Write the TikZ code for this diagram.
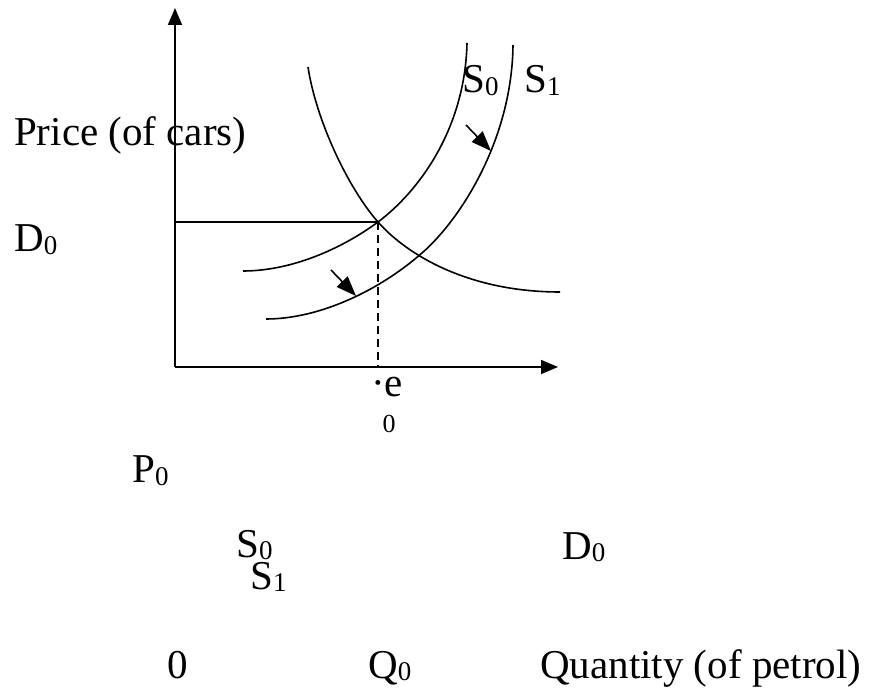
\documentclass[tikz,border=0pt]{standalone}
\usepackage{fontspec}
\setmainfont{Liberation Serif}
\usetikzlibrary{arrows.meta}
\newcommand{\subidx}[1]{\raisebox{-2.5pt}{\fontsize{27}{30}\selectfont #1}}

\begin{document}
\begin{tikzpicture}[x=1pt, y=-1pt,
          curve/.style={line width=1.6pt},
          shift arrow/.style={line width=1.6pt, -{Triangle[length=20pt, width=15pt]}},
          lbl/.style={anchor=base west, inner sep=0pt, font=\fontsize{41}{49}\selectfont},
          small/.style={anchor=base, inner sep=0pt, font=\fontsize{26}{30}\selectfont}]
        \useasboundingbox (0,0) rectangle (876,692);
        \coordinate (O) at (175,367);
        \coordinate (ytop) at (175,8);
        \coordinate (xend) at (558,367);
        \coordinate (e) at (378,222);
        \coordinate (ep) at (175,222);
        \coordinate (eq) at (378,367);
        \coordinate (e1) at (422,253);
        % axes
        \draw[line width=1.7pt, -{Triangle[length=17pt, width=14pt]}] (O) -- (ytop);
        \draw[line width=1.7pt, -{Triangle[length=17pt, width=14pt]}] (O) -- (xend);
        \draw[line width=1.6pt] (ep) -- (e);
        \draw[line width=1.5pt, dash pattern=on 8pt off 5pt] (e) -- (eq);
        % demand and supply
        \draw[curve] (308,67) .. controls (316,120) and (348,188) .. (e)
                     .. controls (408,256) and (470,292) .. (560,292);
        \draw[curve] (243,271) .. controls (290,271) and (340,250) .. (e)
                     .. controls (418,192) and (465,130) .. (467,43);
        \draw[curve] (266,319) .. controls (320,319) and (380,290) .. (e1)
                     .. controls (460,220) and (512,140) .. (513,45);
        \coordinate (a1) at (331,270); \coordinate (b1) at (356,296);
        \coordinate (a2) at (466,125); \coordinate (b2) at (491,151);
        \draw[shift arrow] (a1) -- (b1);
        \draw[shift arrow] (a2) -- (b2);
        % labels
        \node[lbl] (s0top) at (462,93) {S\subidx{0}};
        \node[lbl] (s1top) at (524,93) {S\subidx{1}};
        \node[lbl] (price) at (14,146) {Price (of cars)};
        \node[lbl] (d0left) at (14,252) {D\subidx{0}};
        \node[lbl] (edot) at (371,397) {·e};
        \node[small] (ezero) at (389,433) {0};
        \node[lbl] (p0) at (132,483) {P\subidx{0}};
        \node[lbl] (s0low) at (236,557) {S\subidx{0}};
        \node[lbl] (s1low) at (250,589) {S\subidx{1}};
        \node[lbl] (d0low) at (562,559) {D\subidx{0}};
        \node[lbl] (zero) at (167,678) {0};
        \node[lbl] (q0) at (368,678) {Q\subidx{0}};
        \node[lbl] (qty) at (540,678) {Quantity (of petrol)};
      \end{tikzpicture}
\end{document}
